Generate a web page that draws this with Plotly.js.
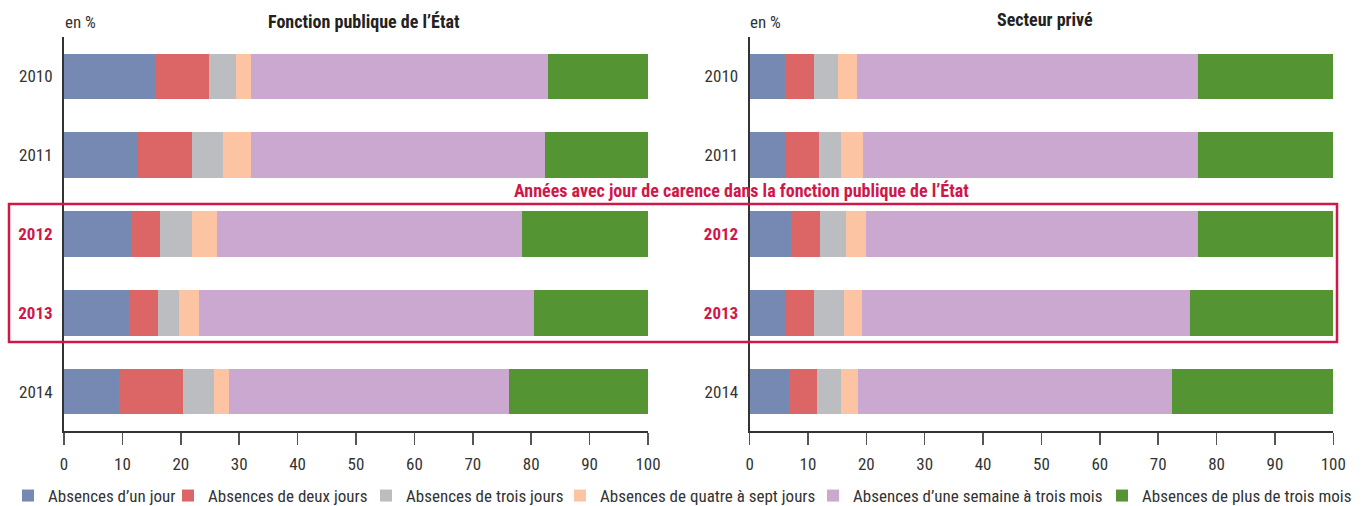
<!DOCTYPE html>
<html>
<head>
<meta charset="utf-8">
<script src="https://cdn.plot.ly/plotly-3.0.1.min.js"></script>
<style>html,body{margin:0;padding:0;background:#fff;}#chart{width:1362px;height:506px;}</style>
</head>
<body>
<div id="chart"></div>
<script>
// Data
const years = ['2010', '2011', '2012', '2013', '2014'];
const yearLabels = ['2010', '2011', '<b><span style="color:#d0174a">2012</span></b>', '<b><span style="color:#d0174a">2013</span></b>', '2014'];
const seriesNames = ["Absences d\u2019un jour", "Absences de deux jours", "Absences de trois jours", "Absences de quatre \u00e0 sept jours", "Absences d\u2019une semaine \u00e0 trois mois", "Absences de plus de trois mois"];
const seriesColors = ['#7589b2', '#dc6566', '#bcbdc1', '#fcc4a3', '#caa8cf', '#549432'];

// Fonction publique de l'État
const fpeUnJour      = [15.5, 12.6, 11.5, 11.1, 9.5];
const fpeDeuxJours   = [9.3, 9.3, 4.9, 5.0, 10.9];
const fpeTroisJours  = [4.6, 5.3, 5.5, 3.6, 5.2];
const fpeQuatreSept  = [2.6, 4.8, 4.3, 3.4, 2.7];
const fpeSemaineMois = [50.9, 50.4, 52.2, 57.3, 47.9];
const fpePlusTrois   = [17.1, 17.6, 21.6, 19.6, 23.8];

// Secteur privé
const prvUnJour      = [6.1, 6.3, 7.1, 6.2, 6.7];
const prvDeuxJours   = [4.9, 5.6, 5.0, 4.8, 4.8];
const prvTroisJours  = [4.1, 3.8, 4.4, 5.1, 4.1];
const prvQuatreSept  = [3.3, 3.7, 3.4, 3.1, 2.9];
const prvSemaineMois = [58.4, 57.4, 56.9, 56.3, 53.9];
const prvPlusTrois   = [23.2, 23.1, 23.2, 24.5, 27.5];

const xTicks = [0, 10, 20, 30, 40, 50, 60, 70, 80, 90, 100];

const fpe = [fpeUnJour, fpeDeuxJours, fpeTroisJours, fpeQuatreSept, fpeSemaineMois, fpePlusTrois];
const prv = [prvUnJour, prvDeuxJours, prvTroisJours, prvQuatreSept, prvSemaineMois, prvPlusTrois];

const FONT = '"Roboto Condensed", "Liberation Sans Narrow", "Arial Narrow", sans-serif';
const CRIMSON = '#d0174a';
const W = 1362, H = 506;
const px = v => v / W;
const py = v => (H - v) / H;

// legend placement (left edge of each legend key, px)
const legendLeft = [26, 186, 384, 578, 831, 1120];
const legendIds = ['legend', 'legend2', 'legend3', 'legend4', 'legend5', 'legend6'];

const traces = [];
fpe.forEach((vals, i) => {
  traces.push({type: 'bar', orientation: 'h', y: years, x: vals, name: seriesNames[i],
    marker: {color: seriesColors[i], line: {width: 0}}, xaxis: 'x', yaxis: 'y',
    legend: legendIds[i], legendgroup: 'g' + i, showlegend: true, hoverinfo: 'x+name'});
});
prv.forEach((vals, i) => {
  traces.push({type: 'bar', orientation: 'h', y: years, x: vals, name: seriesNames[i],
    marker: {color: seriesColors[i], line: {width: 0}}, xaxis: 'x2', yaxis: 'y2',
    legend: legendIds[i], legendgroup: 'g' + i, showlegend: false, hoverinfo: 'x+name'});
});

const xCommon = {range: [0, 100], tickvals: xTicks, ticks: 'outside', ticklen: 12, tickwidth: 1.5, tickcolor: '#555',
  showline: true, linecolor: '#333', linewidth: 2, showgrid: false, zeroline: false, fixedrange: true,
  tickfont: {family: FONT, size: 17, color: '#333'}, ticklabelstandoff: 5, automargin: false};
const yCommon = {type: 'category', categoryarray: years, range: [4.5, -0.5], tickvals: years, ticktext: yearLabels,
  showline: true, linecolor: '#333', linewidth: 2, showgrid: false, zeroline: false, ticks: '', fixedrange: true,
  tickfont: {family: FONT, size: 17, color: '#333'}, ticklabelstandoff: 6, automargin: false};

const layout = {
  width: W, height: H, margin: {l: 0, r: 0, t: 0, b: 0, autoexpand: false},
  paper_bgcolor: '#fff', plot_bgcolor: 'rgba(0,0,0,0)',
  barmode: 'stack', bargap: 0.42,
  font: {family: FONT, size: 17, color: '#333'},
  xaxis: Object.assign({}, xCommon, {domain: [px(64), px(648)], anchor: 'y'}),
  yaxis: Object.assign({}, yCommon, {domain: [py(431), py(37)], anchor: 'x'}),
  xaxis2: Object.assign({}, xCommon, {domain: [px(749.6), px(1333.3)], anchor: 'y2'}),
  yaxis2: Object.assign({}, yCommon, {domain: [py(431), py(37)], anchor: 'x2'}),
  showlegend: true,
  annotations: [
    {text: 'en %', x: px(63), y: py(22), xref: 'paper', yref: 'paper', xanchor: 'left', yanchor: 'middle', showarrow: false, font: {family: FONT, size: 17, color: '#333'}},
    {text: 'en %', x: px(748), y: py(22), xref: 'paper', yref: 'paper', xanchor: 'left', yanchor: 'middle', showarrow: false, font: {family: FONT, size: 17, color: '#333'}},
    {text: '<b>Fonction publique de l\u2019\u00c9tat</b>', x: px(363.5), y: py(22), xref: 'paper', yref: 'paper', xanchor: 'center', yanchor: 'middle', showarrow: false, font: {family: FONT, size: 18, color: '#222'}},
    {text: '<b>Secteur priv\u00e9</b>', x: px(1045), y: py(20), xref: 'paper', yref: 'paper', xanchor: 'center', yanchor: 'middle', showarrow: false, font: {family: FONT, size: 18, color: '#222'}},
    {text: '<b>Ann\u00e9es avec jour de carence dans la fonction publique de l\u2019\u00c9tat</b>', x: px(741), y: py(190), xref: 'paper', yref: 'paper', xanchor: 'center', yanchor: 'middle', showarrow: false, font: {family: FONT, size: 18, color: CRIMSON}}
  ],
  shapes: [
    {type: 'rect', xref: 'paper', yref: 'paper', x0: px(9), x1: px(1337), y0: py(342), y1: py(204), line: {color: CRIMSON, width: 2.5}, fillcolor: 'rgba(0,0,0,0)', layer: 'above'}
  ]
};

legendIds.forEach((id, i) => {
  layout[id] = {orientation: 'h', x: px(legendLeft[i] - 18), xanchor: 'left', y: py(496), yanchor: 'middle',
    font: {family: FONT, size: 17, color: '#333'}, itemwidth: 30, itemclick: false, itemdoubleclick: false,
    bgcolor: 'rgba(0,0,0,0)', borderwidth: 0};
});

Plotly.newPlot('chart', traces, layout, {displayModeBar: false, staticPlot: true});
</script>
</body>
</html>
